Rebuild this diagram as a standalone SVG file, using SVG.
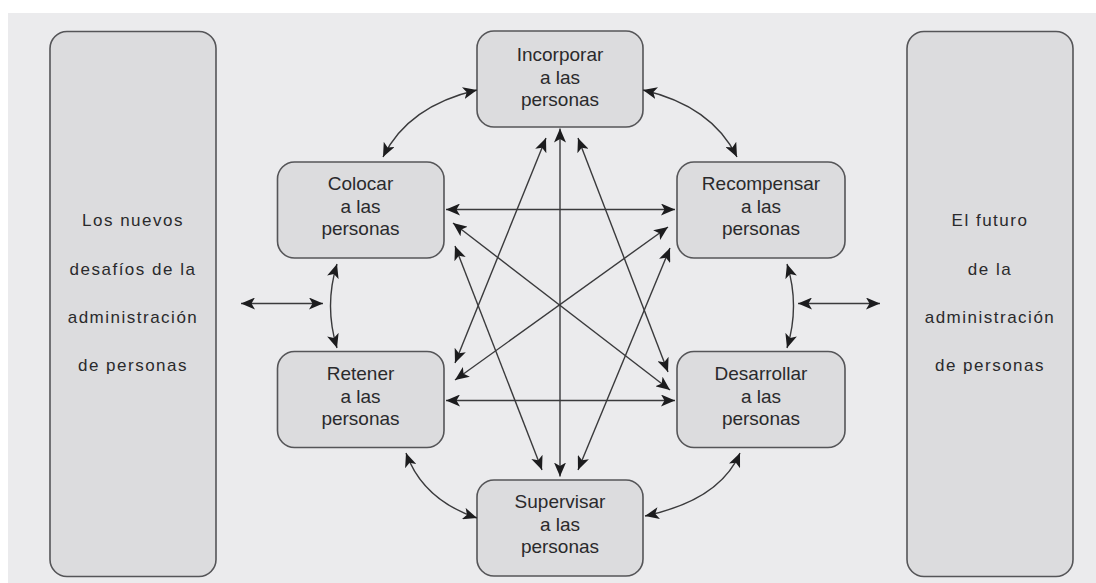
<svg xmlns="http://www.w3.org/2000/svg" width="1096" height="583" viewBox="0 0 1096 583">
<style>
.panel{fill:#dcdcde;stroke:#555558;stroke-width:1.6}
.node{fill:#dcdcde;stroke:#555558;stroke-width:1.6}
.t{font-family:"Liberation Sans",Arial,sans-serif;font-size:19px;fill:#2a2a2c;text-anchor:middle}
.s{font-family:"Liberation Sans",Arial,sans-serif;font-size:17px;fill:#2a2a2c;text-anchor:middle;letter-spacing:1.5px}
.c{fill:none;stroke:#3a3a3c;stroke-width:1.4;marker-start:url(#ah);marker-end:url(#ah)}
</style>
<defs>
<marker id="ah" viewBox="0 0 14 12" refX="14" refY="6" markerWidth="14" markerHeight="12" markerUnits="userSpaceOnUse" orient="auto-start-reverse">
<path d="M0,0 L14,6 L0,12 L3.5,6 Z" fill="#1c1c1e"/>
</marker>
</defs>
<rect x="0" y="0" width="1096" height="583" fill="#ffffff"/>
<rect x="8" y="13" width="1088" height="570" fill="#ebebed"/>

<g id="panel-left">
<rect class="panel" x="50" y="31.5" width="166" height="545" rx="17"/>
<text class="s" x="133" y="226">Los nuevos</text>
<text class="s" x="133" y="275">desafíos de la</text>
<text class="s" x="133" y="323">administración</text>
<text class="s" x="133" y="371">de personas</text>
</g>
<g id="panel-right">
<rect class="panel" x="907" y="31.5" width="166" height="545" rx="17"/>
<text class="s" x="990" y="226">El futuro</text>
<text class="s" x="990" y="275">de la</text>
<text class="s" x="990" y="323">administración</text>
<text class="s" x="990" y="371">de personas</text>
</g>

<g id="n-incorporar">
<rect class="node" x="477" y="31" width="166" height="96" rx="17"/>
<text class="t" x="560" y="61">Incorporar</text>
<text class="t" x="560" y="84">a las</text>
<text class="t" x="560" y="106">personas</text>
</g>
<g id="n-colocar">
<rect class="node" x="277.5" y="162" width="166.5" height="96" rx="17"/>
<text class="t" x="360.5" y="190">Colocar</text>
<text class="t" x="360.5" y="213">a las</text>
<text class="t" x="360.5" y="235">personas</text>
</g>
<g id="n-recompensar">
<rect class="node" x="677" y="162" width="168" height="96" rx="17"/>
<text class="t" x="761" y="190">Recompensar</text>
<text class="t" x="761" y="213">a las</text>
<text class="t" x="761" y="235">personas</text>
</g>
<g id="n-retener">
<rect class="node" x="277.5" y="351.5" width="166.5" height="96" rx="17"/>
<text class="t" x="360.5" y="380">Retener</text>
<text class="t" x="360.5" y="403">a las</text>
<text class="t" x="360.5" y="425">personas</text>
</g>
<g id="n-desarrollar">
<rect class="node" x="677" y="351.5" width="168" height="96" rx="17"/>
<text class="t" x="761" y="380">Desarrollar</text>
<text class="t" x="761" y="403">a las</text>
<text class="t" x="761" y="425">personas</text>
</g>
<g id="n-supervisar">
<rect class="node" x="477" y="480" width="166" height="96" rx="17"/>
<text class="t" x="560" y="508">Supervisar</text>
<text class="t" x="560" y="531">a las</text>
<text class="t" x="560" y="553">personas</text>
</g>

<g id="connectors">
<path class="c" d="M383,157 Q408,106 477,90"/>
<path class="c" d="M737,157 Q712,106 643,90"/>
<path class="c" d="M337,264 Q324,306 337,348"/>
<path class="c" d="M787,264 Q800,306 787,348"/>
<path class="c" d="M406,453 Q423,500 477,518"/>
<path class="c" d="M740,453 Q720,500 645,516"/>
<path class="c" d="M241,303.5 L323,303.5"/>
<path class="c" d="M798,303.5 L880,303.5"/>
<path class="c" d="M446,209.5 L675,209.5"/>
<path class="c" d="M446,400.5 L675,400.5"/>
<path class="c" d="M560,128.5 L560,476.5"/>
<path class="c" d="M546,138 L455,363"/>
<path class="c" d="M578,138 L668,372"/>
<path class="c" d="M453,223 L670,390"/>
<path class="c" d="M668,227 L455,380"/>
<path class="c" d="M455,246 L542,470"/>
<path class="c" d="M670,248 L578,470"/>
</g>
</svg>
